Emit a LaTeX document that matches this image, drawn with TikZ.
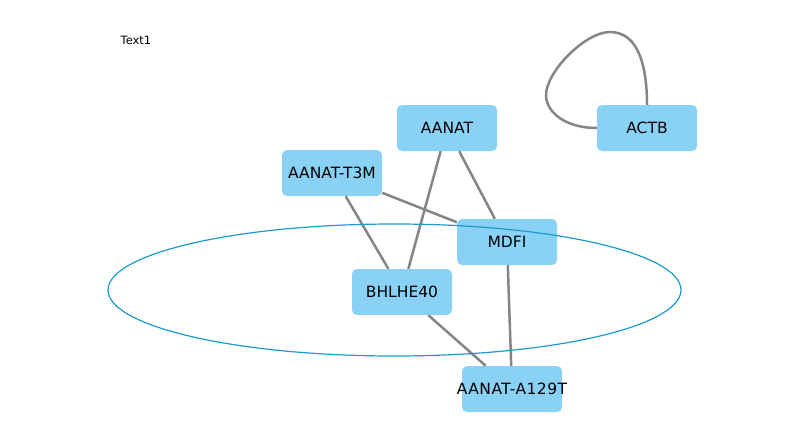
\documentclass[tikz,border=0pt]{standalone}
\usepackage{fontspec}
\setmainfont{DejaVu Sans}
\usepackage{xcolor}
\definecolor{nodeblue}{HTML}{89D1F5}
\definecolor{ringblue}{HTML}{1A9BCC}
\definecolor{edgegray}{HTML}{858585}
\tikzset{
  gene/.style={fill=nodeblue,rounded corners=5pt,minimum width=100pt,minimum height=46pt,inner sep=0pt,font=\fontsize{15.5}{18}\selectfont},
  link/.style={draw=edgegray,line width=2.5pt},
}

\begin{document}
\begin{tikzpicture}[x=1pt,y=-1pt]
            \useasboundingbox (0,0) rectangle (805,447);
            \node[font=\fontsize{11.5}{14}\selectfont] (title) at (136,40) {Text1};
            \node[gene] (aanat) at (447,128) {AANAT};
            \node[gene] (actb) at (647,128) {ACTB};
            \node[gene] (t3m) at (332,173) {AANAT-T3M};
            \node[gene] (mdfi) at (507,242) {MDFI};
            \node[gene] (bhlhe) at (402,292) {BHLHE40};
            % label is wider than the box, let it stick out
            \node[gene] (a129t) at (512,389) {\makebox[0pt][c]{\addfontfeature{LetterSpace=3}AANAT-A129T}};
            \draw[link] (t3m) -- (bhlhe);
            \draw[link] (t3m) -- (mdfi);
            \draw[link] (aanat) -- (bhlhe);
            \draw[link] (aanat) -- (mdfi);
            \draw[link] (mdfi) -- (a129t);
            \draw[link] (bhlhe) -- (a129t);
            \draw[link] (actb.west) .. controls (565,128) and (546,112) .. (546,95)
                .. controls (546,72) and (585,32) .. (610,32)
                .. controls (640,32) and (647,70) .. (actb.north);
            \draw[ringblue,line width=1.2pt] (394.5,290) ellipse (286.5 and 66);
        \end{tikzpicture}
\end{document}
